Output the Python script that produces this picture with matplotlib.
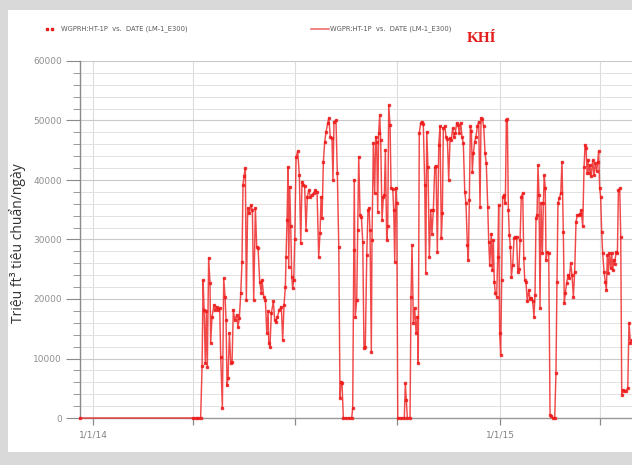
import datetime as dt
import matplotlib
matplotlib.use("Agg")
import matplotlib.pyplot as plt
import matplotlib.dates as mdates
from matplotlib.lines import Line2D
from matplotlib.patches import Rectangle
from matplotlib.ticker import MultipleLocator

# gas rate, days counted from 1/1/14, rate in thousand units
days = [-11.7, 90, 92, 94, 96.5,
        97.8, 98.7, 99.6, 100.7, 101.6, 102.5, 103.7, 104.9, 105.5, 106.7, 108.5, 109.7, 110.9,
        112.1, 113.6, 114.5, 116.0, 117.2, 118.4, 119.3, 120.2, 121.1, 122.3, 123.5, 124.7,
        125.8, 127.1, 128.9, 130.0, 131.2, 132.5, 133.6, 134.5, 135.4, 136.6, 137.5, 138.7,
        140.2, 141.4, 142.9, 144.1, 145.6, 146.8, 148.0, 149.5, 150.9, 151.6, 153.1, 154.6,
        155.8, 157.0, 157.6, 158.7, 159.9, 161.7, 162.9, 164.1, 165.3, 167.1, 168.9, 170.1,
        171.3, 172.5, 173.1, 174.0, 174.9, 175.5, 176.4, 177.3, 178.2, 179.1, 180.0, 180.9,
        182.1, 183.6, 185.0, 186.3, 187.4, 188.6, 189.8, 191.0, 192.2, 193.5, 194.9, 196.4,
        197.9, 199.4, 200.9, 202.4, 203.6, 204.5, 205.4, 206.6, 207.8, 209.0, 210.5, 211.4,
        212.8, 214.3, 215.2, 216.1, 217.9, 219.1, 220.4, 221.5, 222.4, 223.3, 224.5, 226.9,
        229.9, 232.0, 232.9, 233.8, 234.3, 235.2, 236.5, 237.4, 238.3, 239.5, 240.7, 241.9,
        243.0, 244.2, 245.5, 246.6, 247.5, 248.4, 249.6, 250.2, 251.4, 252.6, 253.5, 254.4,
        255.3, 256.2, 257.1, 258.0, 259.2, 260.4, 261.3, 262.2, 263.4, 264.3, 265.2, 266.4,
        267.3, 268.8, 269.7, 270.6, 271.5, 272.4, 273.3, 276.2, 279.2, 280.1, 281.0, 281.9,
        284.3, 285.2, 286.1, 287.3, 288.5, 289.7, 290.9, 291.7, 292.6, 293.9, 295.1, 296.2,
        297.5, 298.4, 299.3, 300.4, 301.6, 302.9, 304.0, 305.2, 306.5, 307.6, 308.8, 310.1,
        311.2, 312.4, 313.3, 314.2, 315.5, 316.6, 317.8, 319.0, 320.2, 321.3, 322.6, 323.8,
        324.9, 326.2, 327.4, 328.5, 329.8, 330.9, 332.1, 333.4, 334.5, 335.7, 336.6, 337.5,
        338.4, 339.3, 340.2, 341.1, 342.3, 343.5, 344.7, 345.9, 347.1, 348.0, 349.2, 350.4,
        351.6, 352.7, 354.0, 354.9, 355.8, 357.2, 358.1, 359.0, 359.9, 360.8, 362.0, 363.0,
        363.8, 364.7, 365.6, 366.5, 367.4, 368.6, 369.8, 370.7, 371.6, 372.5, 373.4, 374.3,
        375.2, 376.4, 377.6, 378.7, 379.9, 380.9, 382.0, 383.0, 384.1, 385.4, 386.3, 387.2,
        388.3, 389.5, 390.8, 391.9, 393.1, 394.3, 395.5, 396.4, 397.3, 398.2, 399.1, 400.0,
        400.9, 401.8, 403.0, 403.9, 404.7, 405.6, 406.3, 407.5, 408.7, 409.9, 411.1, 412.6,
        414.1, 415.2, 416.1, 417.0, 418.2, 419.5, 420.6, 421.8, 422.7, 423.6, 424.8, 426.0,
        427.2, 428.4, 429.6, 430.8, 432.0, 433.2, 434.4, 435.6, 436.8, 437.9, 439.2, 440.4,
        441.3, 442.2, 443.1, 444.0, 444.8, 445.7, 446.9, 448.2, 449.3, 450.5, 451.7, 452.6,
        453.5, 454.4, 455.3, 456.2, 457.1, 458.3, 459.5, 460.4, 461.3, 462.2, 463.1, 464.3,
        465.2, 466.1, 467.0, 467.9, 469.1, 470.3, 471.2, 472.4, 473.3, 474.2, 475.3, 476.6,
        478.1, 479.6, 480.7, 482.0, 483.2]
rate = [0, 0, 0, 0, 0,
        8.8, 23.2, 18.2, 9.2, 17.9, 8.6, 26.9, 22.7, 12.6, 17.0, 19.0, 18.2, 18.7,
        18.2, 18.5, 10.3, 1.7, 23.5, 20.4, 16.5, 5.5, 6.7, 14.3, 9.2, 9.4,
        18.2, 16.5, 17.3, 15.3, 16.8, 21.0, 26.3, 39.2, 40.6, 42.0, 19.8, 35.3,
        34.4, 35.8, 34.9, 19.8, 35.3, 28.8, 28.6, 22.9, 21.0, 23.2, 20.4, 19.8,
        14.3, 17.9, 12.6, 12.0, 17.6, 19.6, 16.5, 16.2, 17.0, 18.2, 18.7, 13.1,
        19.0, 22.0, 27.1, 33.3, 42.2, 25.4, 38.9, 32.2, 23.7, 21.8, 23.2, 30.0,
        43.9, 44.8, 40.8, 29.4, 39.7, 39.2, 39.0, 31.6, 37.2, 38.3, 37.2, 37.5,
        37.8, 38.3, 38.0, 27.1, 31.1, 37.2, 33.6, 43.1, 46.4, 48.1, 49.6, 50.4,
        47.3, 47.0, 40.0, 49.8, 50.0, 41.2, 28.8, 3.4, 6.1, 5.9, 0, 0,
        0, 0, 1.7, 28.2, 40.0, 17.0, 19.8, 31.6, 43.9, 34.1, 33.8, 29.6,
        11.8, 12.0, 27.4, 34.9, 35.3, 31.6, 11.1, 29.9, 46.2, 37.8, 47.3, 46.4,
        34.7, 47.9, 50.9, 46.7, 33.3, 37.2, 37.5, 45.0, 29.9, 32.2, 52.6, 49.2,
        38.7, 38.5, 34.9, 26.3, 38.7, 36.1, 0, 0, 0, 5.9, 3.0, 0,
        0, 20.4, 29.1, 16.0, 18.5, 14.3, 17.0, 9.2, 47.9, 49.6, 49.8, 49.4,
        39.2, 24.4, 48.1, 42.2, 27.1, 34.9, 31.0, 34.9, 42.2, 42.4, 27.9, 45.9,
        49.0, 30.2, 34.4, 48.7, 49.0, 47.3, 46.9, 40.0, 47.0, 46.8, 48.7, 47.2,
        47.9, 49.6, 49.2, 47.9, 49.6, 47.2, 46.2, 38.0, 36.1, 29.1, 26.6, 36.6,
        49.0, 48.2, 41.4, 44.5, 46.4, 47.3, 49.0, 49.8, 35.5, 50.4, 50.2, 49.0,
        44.5, 42.8, 35.5, 29.6, 25.7, 31.0, 24.9, 29.9, 22.9, 21.0, 20.4, 27.1,
        35.8, 14.3, 10.6, 23.2, 37.2, 37.5, 36.1, 50.0, 50.2, 34.9, 30.8, 28.8,
        23.7, 25.7, 30.2, 30.4, 30.5, 24.6, 25.0, 29.9, 37.2, 37.8, 26.9, 23.2,
        22.8, 19.6, 21.5, 20.0, 20.2, 19.6, 17.0, 20.7, 33.6, 34.1, 42.5, 37.5,
        18.5, 36.1, 27.7, 36.1, 40.8, 38.7, 26.6, 27.9, 27.7, 0.5, 0.4, 0,
        0, 7.6, 22.9, 36.1, 36.9, 37.8, 43.1, 31.3, 19.3, 21.0, 22.7, 24.0,
        23.5, 26.0, 24.0, 20.4, 24.6, 33.0, 34.1, 34.2, 34.3, 34.9, 32.2, 42.2,
        45.9, 45.3, 41.2, 43.4, 41.2, 42.5, 40.6, 43.4, 40.8, 42.8, 41.5, 43.0,
        44.8, 38.6, 37.2, 31.3, 27.7, 24.6, 22.9, 21.5, 27.4, 24.4, 27.7, 25.2,
        27.7, 24.8, 26.6, 25.9, 27.9, 27.7, 38.3, 38.6, 30.5, 3.9, 4.7, 4.6,
        4.6, 5.0, 16.0, 12.6, 13.1]

tick_dates = ["2014-01-01", "2014-04-01", "2014-07-01", "2014-10-01", "2015-01-01", "2015-04-01"]
tick_labels = ["1/1/14", "", "", "", "1/1/15", ""]

legend_1 = "WGPRH:HT-1P  vs.  DATE (LM-1_E300)"
legend_2 = "WGPR:HT-1P  vs.  DATE (LM-1_E300)"
phase = "KHÍ"
ylabel = "Triệu ft³ tiêu chuẩn/ngày"

red = "#ee1c1c"
t0 = mdates.date2num(dt.datetime(2014, 1, 1))
x = [t0 + d for d in days]
y = [v * 1000 for v in rate]

fig = plt.figure(figsize=(6.32, 4.65), dpi=100)
fig.patch.set_facecolor("#d9d9d9")
fig.patches.append(Rectangle((8 / 632, 13 / 465), 1 - 8 / 632, 1 - 23 / 465,
                             transform=fig.transFigure, facecolor="white",
                             edgecolor="none", zorder=-10))

ax = fig.add_axes([80 / 632, 1 - 418 / 465, 1 - 80 / 632, (418 - 61) / 465])
ax.set_zorder(2)
ax.set_facecolor("none")
ax.plot(x, y, color=red, lw=1.05, alpha=0.8, marker="s", ms=2.1,
        mec=red, mfc=red, clip_on=False, zorder=3)

ax.set_ylim(0, 60000)
ax.set_xlim(t0 - 11.7, t0 + 483.4)
ax.yaxis.set_major_locator(MultipleLocator(10000))
ax.yaxis.set_minor_locator(MultipleLocator(2000))
xt = [mdates.date2num(dt.datetime.strptime(s, "%Y-%m-%d")) for s in tick_dates]
ax.set_xticks(xt)
ax.set_xticklabels(tick_labels)

ax.grid(which="major", axis="y", color="#c9c9c9", lw=0.8)
ax.grid(which="minor", axis="y", color="#e2e2e2", lw=0.7)
ax.grid(which="major", axis="x", color="#dcdcdc", lw=0.8)
ax.set_axisbelow(True)

for s in ["top", "right"]:
    ax.spines[s].set_visible(False)
ax.spines["left"].set_color("#8a8a8a")
ax.spines["bottom"].set_color("#9a9a9a")
ax.spines["left"].set_linewidth(1.0)
ax.spines["bottom"].set_linewidth(1.0)

ax.tick_params(axis="y", which="major", length=10, width=0.8, color="#8a8a8a",
               labelsize=6.5, labelcolor="#909090", pad=3)
ax.tick_params(axis="y", which="minor", length=5, width=0.6, color="#8a8a8a")
ax.tick_params(axis="x", which="major", length=5, width=0.9, color="#8a8a8a",
               labelsize=6.5, labelcolor="#808080", pad=4)

fig.text(18 / 632, 1 - 243 / 465, ylabel, rotation=90, ha="center", va="center",
         fontsize=10, family="Open Sans", color="#333333")

# legend row
fig.add_artist(Line2D([47 / 632, 52 / 632], [1 - 29 / 465] * 2, ls="none",
                      marker="s", ms=1.8, color=red, transform=fig.transFigure))
fig.text(61 / 632, 1 - 29 / 465, legend_1, fontsize=4.9, color="#5a5a5a",
         va="center", ha="left")
fig.add_artist(Line2D([311 / 632, 329 / 632], [1 - 29 / 465] * 2, lw=1.2,
                      color="#f07070", transform=fig.transFigure))
fig.text(330 / 632, 1 - 29 / 465, legend_2, fontsize=4.9, color="#5a5a5a",
         va="center", ha="left")
fig.text(482 / 632, 1 - 38 / 465, phase, fontsize=11, fontweight="bold",
         family="Liberation Serif", color="#e41e1e", ha="center", va="center")

fig.savefig("out.png", dpi=100, facecolor=fig.get_facecolor())
